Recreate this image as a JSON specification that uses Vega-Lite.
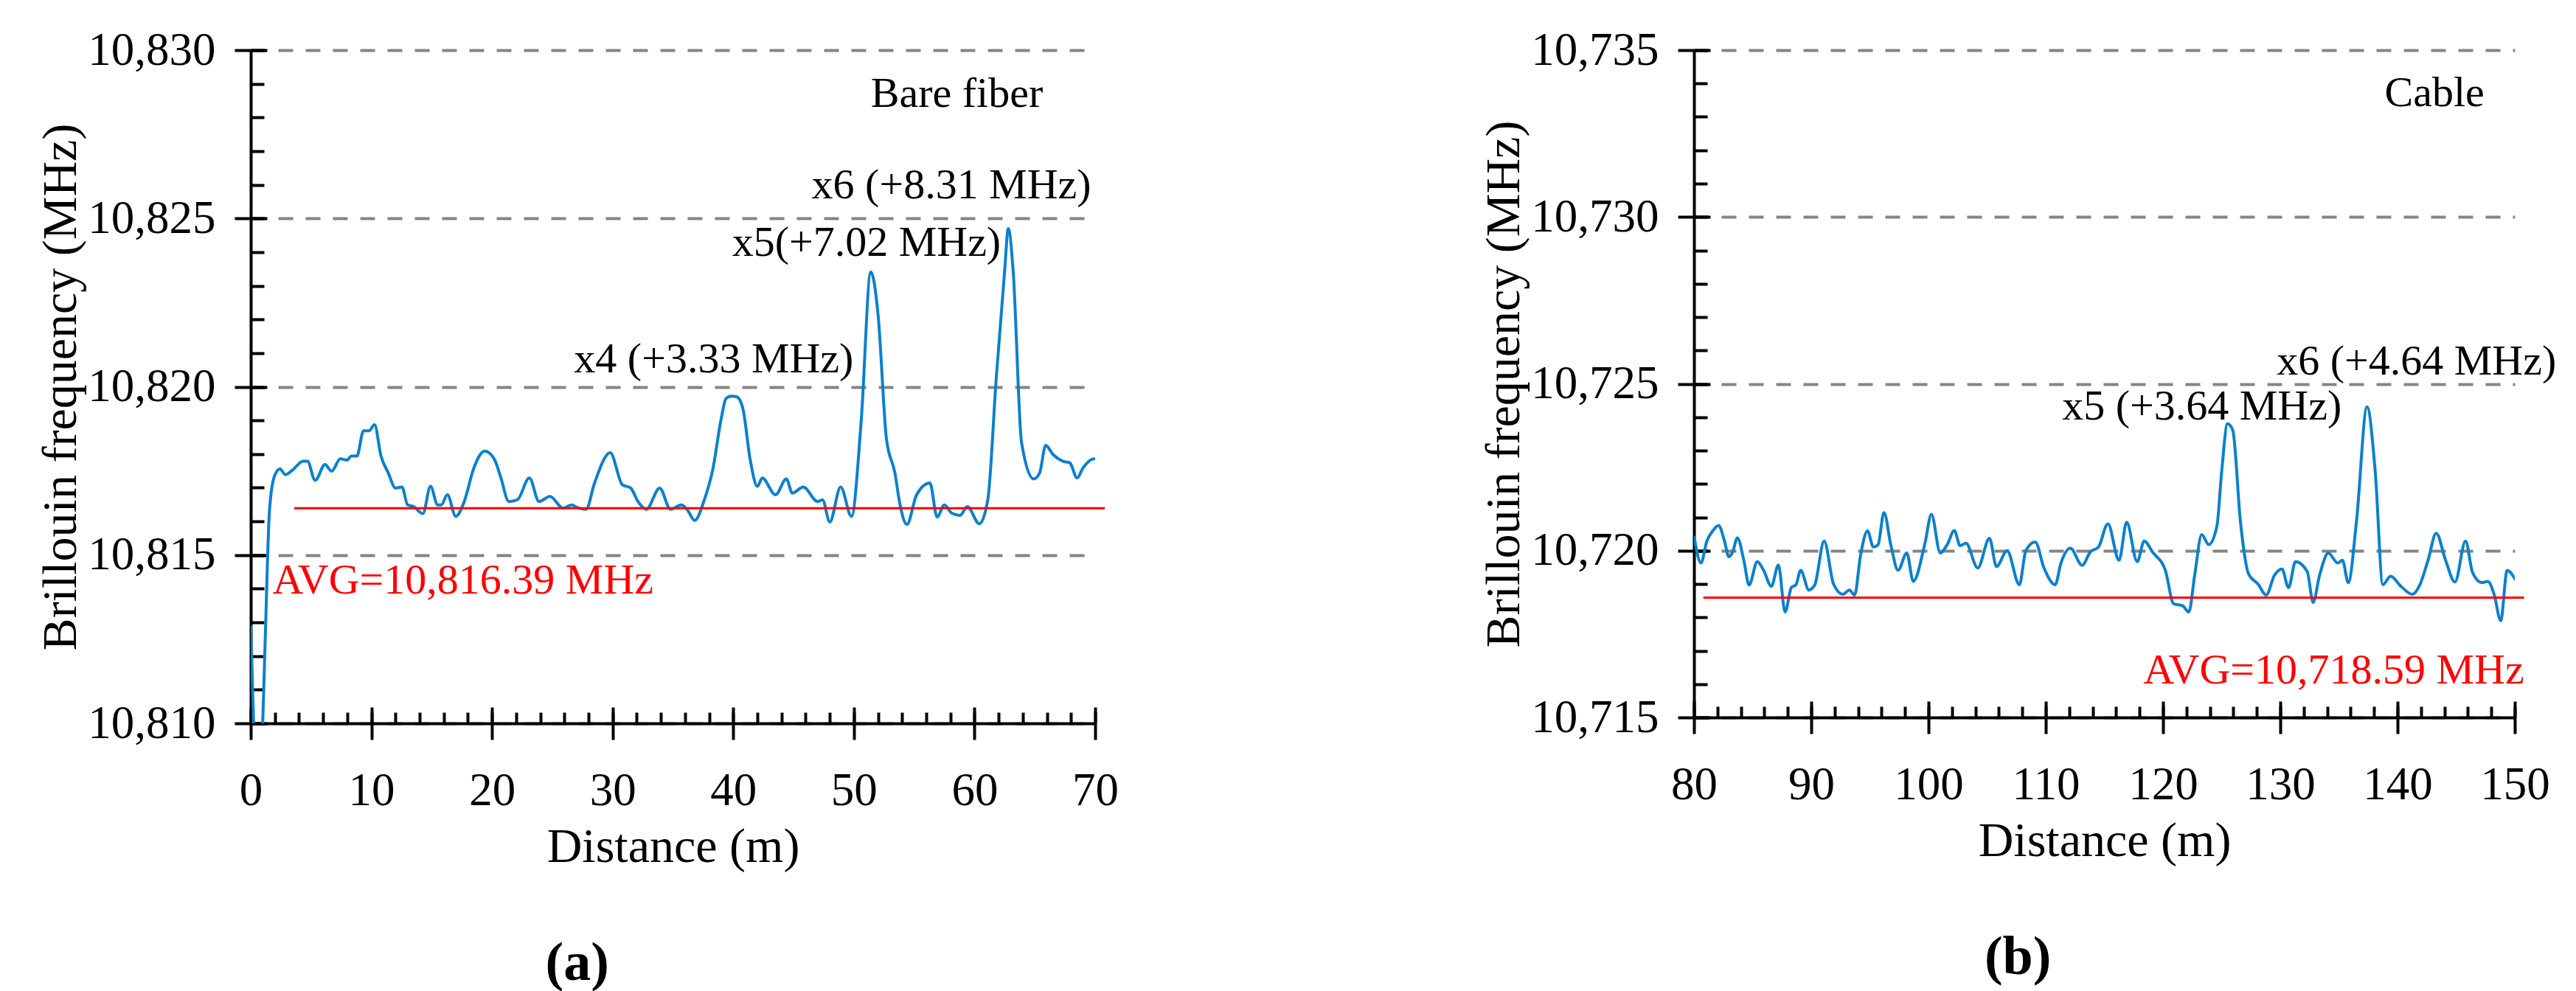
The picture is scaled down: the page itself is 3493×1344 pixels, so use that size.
{
  "$schema": "https://vega.github.io/schema/vega-lite/v6.json",
  "background": "white",
  "padding": {"left": 49, "top": 37, "right": 5, "bottom": 5},
  "config": {
    "view": {"stroke": null},
    "font": "Liberation Serif",
    "axis": {
      "domainColor": "black",
      "domainWidth": 4,
      "tickColor": "black",
      "tickWidth": 4,
      "labelFont": "Liberation Serif",
      "labelFontSize": 63,
      "labelColor": "black",
      "titleFont": "Liberation Serif",
      "titleFontSize": 66,
      "titleFontWeight": "normal",
      "titleColor": "black",
      "grid": false,
      "labelFlush": false,
      "labelOverlap": false,
      "labelBound": false
    },
    "title": {"font": "Liberation Serif", "fontSize": 74, "fontWeight": "bold", "color": "black"}
  },
  "datasets": {
    "fiber": [
      {"distance": 0, "frequency": 10812.9},
      {"distance": 0.3, "frequency": 10809.2},
      {"distance": 0.6, "frequency": 10807.5},
      {"distance": 0.9, "frequency": 10809.0},
      {"distance": 1.2, "frequency": 10812.5},
      {"distance": 1.55, "frequency": 10816.3},
      {"distance": 1.96, "frequency": 10817.34},
      {"distance": 2.42, "frequency": 10817.56},
      {"distance": 2.87, "frequency": 10817.39},
      {"distance": 3.51, "frequency": 10817.54},
      {"distance": 4.33, "frequency": 10817.79},
      {"distance": 4.7, "frequency": 10817.79},
      {"distance": 5.34, "frequency": 10817.22},
      {"distance": 6.16, "frequency": 10817.69},
      {"distance": 6.7, "frequency": 10817.49},
      {"distance": 7.43, "frequency": 10817.86},
      {"distance": 7.98, "frequency": 10817.82},
      {"distance": 8.34, "frequency": 10817.94},
      {"distance": 8.8, "frequency": 10817.94},
      {"distance": 9.35, "frequency": 10818.69},
      {"distance": 9.8, "frequency": 10818.69},
      {"distance": 10.26, "frequency": 10818.87},
      {"distance": 10.8, "frequency": 10817.94},
      {"distance": 11.4, "frequency": 10817.44},
      {"distance": 12.0, "frequency": 10816.99},
      {"distance": 12.54, "frequency": 10817.02},
      {"distance": 13.0, "frequency": 10816.49},
      {"distance": 13.5, "frequency": 10816.44},
      {"distance": 14.27, "frequency": 10816.23},
      {"distance": 14.9, "frequency": 10817.04},
      {"distance": 15.5, "frequency": 10816.49},
      {"distance": 15.8, "frequency": 10816.49},
      {"distance": 16.3, "frequency": 10816.79},
      {"distance": 17.0, "frequency": 10816.15},
      {"distance": 17.7, "frequency": 10816.59},
      {"distance": 18.5, "frequency": 10817.59},
      {"distance": 19.4, "frequency": 10818.09},
      {"distance": 20.2, "frequency": 10817.84},
      {"distance": 20.7, "frequency": 10817.34},
      {"distance": 21.4, "frequency": 10816.59},
      {"distance": 22.1, "frequency": 10816.64},
      {"distance": 23.1, "frequency": 10817.29},
      {"distance": 23.9, "frequency": 10816.59},
      {"distance": 24.8, "frequency": 10816.74},
      {"distance": 25.9, "frequency": 10816.39},
      {"distance": 26.6, "frequency": 10816.49},
      {"distance": 27.2, "frequency": 10816.39},
      {"distance": 27.8, "frequency": 10816.36},
      {"distance": 28.5, "frequency": 10817.14},
      {"distance": 29.8, "frequency": 10818.04},
      {"distance": 30.8, "frequency": 10817.09},
      {"distance": 31.5, "frequency": 10816.99},
      {"distance": 32.1, "frequency": 10816.59},
      {"distance": 32.8, "frequency": 10816.36},
      {"distance": 33.9, "frequency": 10816.99},
      {"distance": 34.8, "frequency": 10816.36},
      {"distance": 35.7, "frequency": 10816.49},
      {"distance": 36.2, "frequency": 10816.34},
      {"distance": 36.8, "frequency": 10816.03},
      {"distance": 37.6, "frequency": 10816.64},
      {"distance": 38.3, "frequency": 10817.54},
      {"distance": 39.0, "frequency": 10819.05},
      {"distance": 39.4, "frequency": 10819.65},
      {"distance": 39.85, "frequency": 10819.72},
      {"distance": 40.3, "frequency": 10819.7},
      {"distance": 40.8, "frequency": 10819.35},
      {"distance": 41.4, "frequency": 10817.84},
      {"distance": 42.0, "frequency": 10817.04},
      {"distance": 42.4, "frequency": 10817.29},
      {"distance": 43.5, "frequency": 10816.79},
      {"distance": 44.4, "frequency": 10817.26},
      {"distance": 44.9, "frequency": 10816.84},
      {"distance": 45.8, "frequency": 10817.02},
      {"distance": 47.0, "frequency": 10816.59},
      {"distance": 47.4, "frequency": 10816.64},
      {"distance": 48.0, "frequency": 10815.98},
      {"distance": 48.9, "frequency": 10817.02},
      {"distance": 49.8, "frequency": 10816.15},
      {"distance": 50.6, "frequency": 10818.95},
      {"distance": 51.4, "frequency": 10823.41},
      {"distance": 52.0, "frequency": 10822.16},
      {"distance": 52.7, "frequency": 10818.45},
      {"distance": 53.4, "frequency": 10817.44},
      {"distance": 53.8, "frequency": 10816.54},
      {"distance": 54.4, "frequency": 10815.91},
      {"distance": 55.2, "frequency": 10816.79},
      {"distance": 56.3, "frequency": 10817.14},
      {"distance": 56.9, "frequency": 10816.13},
      {"distance": 57.5, "frequency": 10816.49},
      {"distance": 58.1, "frequency": 10816.25},
      {"distance": 58.8, "frequency": 10816.18},
      {"distance": 59.4, "frequency": 10816.44},
      {"distance": 60.4, "frequency": 10815.93},
      {"distance": 61.1, "frequency": 10816.64},
      {"distance": 61.8, "frequency": 10820.25},
      {"distance": 62.5, "frequency": 10823.46},
      {"distance": 62.8, "frequency": 10824.7},
      {"distance": 63.2, "frequency": 10823.46},
      {"distance": 63.9, "frequency": 10818.34},
      {"distance": 64.9, "frequency": 10817.26},
      {"distance": 65.4, "frequency": 10817.44},
      {"distance": 65.9, "frequency": 10818.26},
      {"distance": 66.5, "frequency": 10817.99},
      {"distance": 67.3, "frequency": 10817.79},
      {"distance": 67.9, "frequency": 10817.74},
      {"distance": 68.5, "frequency": 10817.29},
      {"distance": 69.0, "frequency": 10817.59},
      {"distance": 69.9, "frequency": 10817.86},
      {"distance": 70.3, "frequency": 10817.84}
    ],
    "cable": [
      {"distance": 80.0, "frequency": 10720.44},
      {"distance": 80.6, "frequency": 10719.63},
      {"distance": 81.1, "frequency": 10720.29},
      {"distance": 81.6, "frequency": 10720.59},
      {"distance": 82.1, "frequency": 10720.75},
      {"distance": 82.6, "frequency": 10720.29},
      {"distance": 82.97, "frequency": 10719.82},
      {"distance": 83.3, "frequency": 10719.96},
      {"distance": 83.7, "frequency": 10720.38},
      {"distance": 84.25, "frequency": 10719.71},
      {"distance": 84.7, "frequency": 10718.97},
      {"distance": 85.4, "frequency": 10719.67},
      {"distance": 85.94, "frequency": 10719.41},
      {"distance": 86.6, "frequency": 10718.93},
      {"distance": 87.2, "frequency": 10719.57},
      {"distance": 87.77, "frequency": 10718.16},
      {"distance": 88.3, "frequency": 10718.89},
      {"distance": 88.7, "frequency": 10718.98},
      {"distance": 89.1, "frequency": 10719.41},
      {"distance": 89.8, "frequency": 10718.82},
      {"distance": 90.3, "frequency": 10718.97},
      {"distance": 91.1, "frequency": 10720.29},
      {"distance": 91.9, "frequency": 10719.0},
      {"distance": 92.7, "frequency": 10718.69},
      {"distance": 93.25, "frequency": 10718.82},
      {"distance": 93.7, "frequency": 10718.67},
      {"distance": 94.2, "frequency": 10719.85},
      {"distance": 94.8, "frequency": 10720.59},
      {"distance": 95.3, "frequency": 10720.11},
      {"distance": 95.7, "frequency": 10720.18},
      {"distance": 96.2, "frequency": 10721.14},
      {"distance": 96.8, "frequency": 10720.15},
      {"distance": 97.4, "frequency": 10719.41},
      {"distance": 98.15, "frequency": 10719.93},
      {"distance": 98.7, "frequency": 10719.08},
      {"distance": 99.7, "frequency": 10720.22},
      {"distance": 100.25, "frequency": 10721.09},
      {"distance": 101.0, "frequency": 10719.93},
      {"distance": 101.6, "frequency": 10720.18},
      {"distance": 102.2, "frequency": 10720.6},
      {"distance": 102.7, "frequency": 10720.15},
      {"distance": 103.2, "frequency": 10720.22},
      {"distance": 104.2, "frequency": 10719.48},
      {"distance": 105.2, "frequency": 10720.37},
      {"distance": 105.8, "frequency": 10719.52},
      {"distance": 106.7, "frequency": 10720.0},
      {"distance": 107.75, "frequency": 10718.98},
      {"distance": 108.3, "frequency": 10720.0},
      {"distance": 109.1, "frequency": 10720.26},
      {"distance": 109.85, "frequency": 10719.48},
      {"distance": 110.8, "frequency": 10718.98},
      {"distance": 111.3, "frequency": 10719.63},
      {"distance": 112.1, "frequency": 10720.07},
      {"distance": 113.1, "frequency": 10719.56},
      {"distance": 113.8, "frequency": 10719.96},
      {"distance": 114.5, "frequency": 10720.11},
      {"distance": 115.3, "frequency": 10720.8},
      {"distance": 116.25, "frequency": 10719.71},
      {"distance": 116.9, "frequency": 10720.85},
      {"distance": 117.8, "frequency": 10719.67},
      {"distance": 118.4, "frequency": 10720.29},
      {"distance": 119.1, "frequency": 10719.96},
      {"distance": 120.2, "frequency": 10719.41},
      {"distance": 120.9, "frequency": 10718.41},
      {"distance": 121.7, "frequency": 10718.34},
      {"distance": 122.2, "frequency": 10718.16},
      {"distance": 122.7, "frequency": 10719.26},
      {"distance": 123.3, "frequency": 10720.48},
      {"distance": 123.9, "frequency": 10720.18},
      {"distance": 124.6, "frequency": 10720.74},
      {"distance": 125.0, "frequency": 10722.36},
      {"distance": 125.5, "frequency": 10723.8},
      {"distance": 125.95, "frequency": 10723.61},
      {"distance": 126.6, "frequency": 10720.88},
      {"distance": 127.3, "frequency": 10719.3},
      {"distance": 128.1, "frequency": 10719.0},
      {"distance": 128.8, "frequency": 10718.67},
      {"distance": 129.5, "frequency": 10719.26},
      {"distance": 130.15, "frequency": 10719.45},
      {"distance": 130.7, "frequency": 10718.89},
      {"distance": 131.3, "frequency": 10719.67},
      {"distance": 132.3, "frequency": 10719.37},
      {"distance": 132.8, "frequency": 10718.45},
      {"distance": 133.35, "frequency": 10719.26},
      {"distance": 134.1, "frequency": 10719.93},
      {"distance": 134.9, "frequency": 10719.63},
      {"distance": 135.3, "frequency": 10719.71},
      {"distance": 135.8, "frequency": 10719.04},
      {"distance": 136.5, "frequency": 10720.88},
      {"distance": 137.4, "frequency": 10724.31},
      {"distance": 138.1, "frequency": 10722.36},
      {"distance": 138.75, "frequency": 10718.98},
      {"distance": 139.4, "frequency": 10719.23},
      {"distance": 140.35, "frequency": 10718.91},
      {"distance": 141.25, "frequency": 10718.69},
      {"distance": 141.9, "frequency": 10718.97},
      {"distance": 142.6, "frequency": 10719.71},
      {"distance": 143.3, "frequency": 10720.52},
      {"distance": 144.1, "frequency": 10719.71},
      {"distance": 144.9, "frequency": 10719.06},
      {"distance": 145.8, "frequency": 10720.29},
      {"distance": 146.4, "frequency": 10719.34},
      {"distance": 147.2, "frequency": 10719.04},
      {"distance": 147.7, "frequency": 10719.08},
      {"distance": 148.25, "frequency": 10718.67},
      {"distance": 148.8, "frequency": 10717.9},
      {"distance": 149.35, "frequency": 10719.41},
      {"distance": 149.95, "frequency": 10719.19},
      {"distance": 150.4, "frequency": 10718.89}
    ],
    "avgFiber": [{"start": 3.6, "end": 70.8, "frequency": 10816.39}],
    "avgCable": [{"start": 80.8, "end": 150.8, "frequency": 10718.59}],
    "notesFiber": [
      {"x": 51.4, "y": 10828.69, "label": "Bare fiber"},
      {"x": 46.5, "y": 10825.97, "label": "x6 (+8.31 MHz)"},
      {"x": 39.9, "y": 10824.27, "label": "x5(+7.02 MHz)"},
      {"x": 26.8, "y": 10820.8, "label": "x4 (+3.33 MHz)"}
    ],
    "notesCable": [
      {"x": 138.9, "y": 10733.7, "label": "Cable"},
      {"x": 129.7, "y": 10725.66, "label": "x6 (+4.64 MHz)"},
      {"x": 111.4, "y": 10724.3, "label": "x5 (+3.64 MHz)"}
    ],
    "avgTextFiber": [{"x": 1.8, "y": 10814.23, "label": "AVG=10,816.39 MHz"}],
    "avgTextCable": [{"x": 150.8, "y": 10716.4, "label": "AVG=10,718.59 MHz"}]
  },
  "bounds": "flush",
  "spacing": 812,
  "hconcat": [
    {
      "width": 1145,
      "height": 913,
      "title": {"text": "(a)", "orient": "bottom", "anchor": "middle", "frame": "bounds", "offset": 90},
      "resolve": {"axis": {"x": "independent", "y": "independent"}},
      "layer": [
        {
          "data": {"name": "fiber"},
          "mark": {"type": "line", "color": "#0b80cc", "strokeWidth": 4, "clip": true, "interpolate": "monotone"},
          "encoding": {
            "x": {
              "field": "distance", "type": "quantitative",
              "scale": {"domain": [0, 70], "nice": false, "zero": false},
              "axis": {"orient": "bottom", "values": [0, 10, 20, 30, 40, 50, 60, 70], "tickSize": 22, "labelPadding": 38, "title": "Distance (m)", "titlePadding": 12}
            },
            "y": {
              "field": "frequency", "type": "quantitative",
              "scale": {"domain": [10810, 10830], "nice": false, "zero": false},
              "axis": {"orient": "left", "values": [10810, 10815, 10820, 10825, 10830], "format": ",d", "tickSize": 22, "labelPadding": 26, "title": "Brillouin frequency (MHz)", "titlePadding": 24, "grid": true, "gridDash": [20, 17], "gridColor": "#858585", "gridWidth": 4}
            }
          }
        },
        {
          "data": {"name": "avgFiber"},
          "mark": {"type": "rule", "color": "#ff0000", "strokeWidth": 3},
          "encoding": {
            "x": {
              "field": "start", "type": "quantitative",
              "scale": {"domain": [0, 70], "nice": false, "zero": false},
              "axis": {"orient": "bottom", "values": [0, 2, 4, 6, 8, 10, 12, 14, 16, 18, 20, 22, 24, 26, 28, 30, 32, 34, 36, 38, 40, 42, 44, 46, 48, 50, 52, 54, 56, 58, 60, 62, 64, 66, 68, 70], "tickSize": -15, "labels": false, "domain": false, "title": null}
            },
            "x2": {"field": "end"},
            "y": {
              "field": "frequency", "type": "quantitative",
              "scale": {"domain": [10810, 10830], "nice": false, "zero": false},
              "axis": {"orient": "left", "values": [10810, 10811, 10812, 10813, 10814, 10815, 10816, 10817, 10818, 10819, 10820, 10821, 10822, 10823, 10824, 10825, 10826, 10827, 10828, 10829, 10830], "tickSize": -18, "labels": false, "domain": false, "title": null}
            }
          }
        },
        {
          "data": {"name": "notesFiber"},
          "mark": {"type": "text", "align": "left", "baseline": "middle", "fontSize": 58, "color": "black", "font": "Liberation Serif"},
          "encoding": {
            "x": {
              "field": "x", "type": "quantitative",
              "scale": {"domain": [0, 70], "nice": false, "zero": false},
              "axis": {"orient": "bottom", "values": [0, 10, 20, 30, 40, 50, 60, 70], "tickSize": -22, "labels": false, "domain": false, "title": null}
            },
            "y": {
              "field": "y", "type": "quantitative",
              "scale": {"domain": [10810, 10830], "nice": false, "zero": false},
              "axis": {"orient": "left", "values": [10810, 10815, 10820, 10825, 10830], "tickSize": -22, "labels": false, "domain": false, "title": null}
            },
            "text": {"field": "label"}
          }
        },
        {
          "data": {"name": "avgTextFiber"},
          "mark": {"type": "text", "align": "left", "baseline": "middle", "fontSize": 58, "color": "#ff0000", "font": "Liberation Serif"},
          "encoding": {
            "x": {"field": "x", "type": "quantitative", "scale": {"domain": [0, 70], "nice": false, "zero": false}, "axis": null},
            "y": {"field": "y", "type": "quantitative", "scale": {"domain": [10810, 10830], "nice": false, "zero": false}, "axis": null},
            "text": {"field": "label"}
          }
        }
      ]
    },
    {
      "width": 1113,
      "height": 905,
      "title": {"text": "(b)", "orient": "bottom", "anchor": "middle", "frame": "bounds", "offset": 90},
      "resolve": {"axis": {"x": "independent", "y": "independent"}},
      "layer": [
        {
          "data": {"name": "cable"},
          "mark": {"type": "line", "color": "#0b80cc", "strokeWidth": 4, "clip": true, "interpolate": "monotone"},
          "encoding": {
            "x": {
              "field": "distance", "type": "quantitative",
              "scale": {"domain": [80, 150], "nice": false, "zero": false},
              "axis": {"orient": "bottom", "values": [80, 90, 100, 110, 120, 130, 140, 150], "tickSize": 22, "labelPadding": 38, "title": "Distance (m)", "titlePadding": 12}
            },
            "y": {
              "field": "frequency", "type": "quantitative",
              "scale": {"domain": [10715, 10735], "nice": false, "zero": false},
              "axis": {"orient": "left", "values": [10715, 10720, 10725, 10730, 10735], "format": ",d", "tickSize": 22, "labelPadding": 26, "title": "Brillouin frequency (MHz)", "titlePadding": 24, "grid": true, "gridDash": [20, 17], "gridColor": "#858585", "gridWidth": 4}
            }
          }
        },
        {
          "data": {"name": "avgCable"},
          "mark": {"type": "rule", "color": "#ff0000", "strokeWidth": 3},
          "encoding": {
            "x": {
              "field": "start", "type": "quantitative",
              "scale": {"domain": [80, 150], "nice": false, "zero": false},
              "axis": {"orient": "bottom", "values": [80, 82, 84, 86, 88, 90, 92, 94, 96, 98, 100, 102, 104, 106, 108, 110, 112, 114, 116, 118, 120, 122, 124, 126, 128, 130, 132, 134, 136, 138, 140, 142, 144, 146, 148, 150], "tickSize": -15, "labels": false, "domain": false, "title": null}
            },
            "x2": {"field": "end"},
            "y": {
              "field": "frequency", "type": "quantitative",
              "scale": {"domain": [10715, 10735], "nice": false, "zero": false},
              "axis": {"orient": "left", "values": [10715, 10716, 10717, 10718, 10719, 10720, 10721, 10722, 10723, 10724, 10725, 10726, 10727, 10728, 10729, 10730, 10731, 10732, 10733, 10734, 10735], "tickSize": -18, "labels": false, "domain": false, "title": null}
            }
          }
        },
        {
          "data": {"name": "notesCable"},
          "mark": {"type": "text", "align": "left", "baseline": "middle", "fontSize": 58, "color": "black", "font": "Liberation Serif"},
          "encoding": {
            "x": {
              "field": "x", "type": "quantitative",
              "scale": {"domain": [80, 150], "nice": false, "zero": false},
              "axis": {"orient": "bottom", "values": [80, 90, 100, 110, 120, 130, 140, 150], "tickSize": -22, "labels": false, "domain": false, "title": null}
            },
            "y": {
              "field": "y", "type": "quantitative",
              "scale": {"domain": [10715, 10735], "nice": false, "zero": false},
              "axis": {"orient": "left", "values": [10715, 10720, 10725, 10730, 10735], "tickSize": -22, "labels": false, "domain": false, "title": null}
            },
            "text": {"field": "label"}
          }
        },
        {
          "data": {"name": "avgTextCable"},
          "mark": {"type": "text", "align": "right", "baseline": "middle", "fontSize": 58, "color": "#ff0000", "font": "Liberation Serif"},
          "encoding": {
            "x": {"field": "x", "type": "quantitative", "scale": {"domain": [80, 150], "nice": false, "zero": false}, "axis": null},
            "y": {"field": "y", "type": "quantitative", "scale": {"domain": [10715, 10735], "nice": false, "zero": false}, "axis": null},
            "text": {"field": "label"}
          }
        }
      ]
    }
  ]
}
